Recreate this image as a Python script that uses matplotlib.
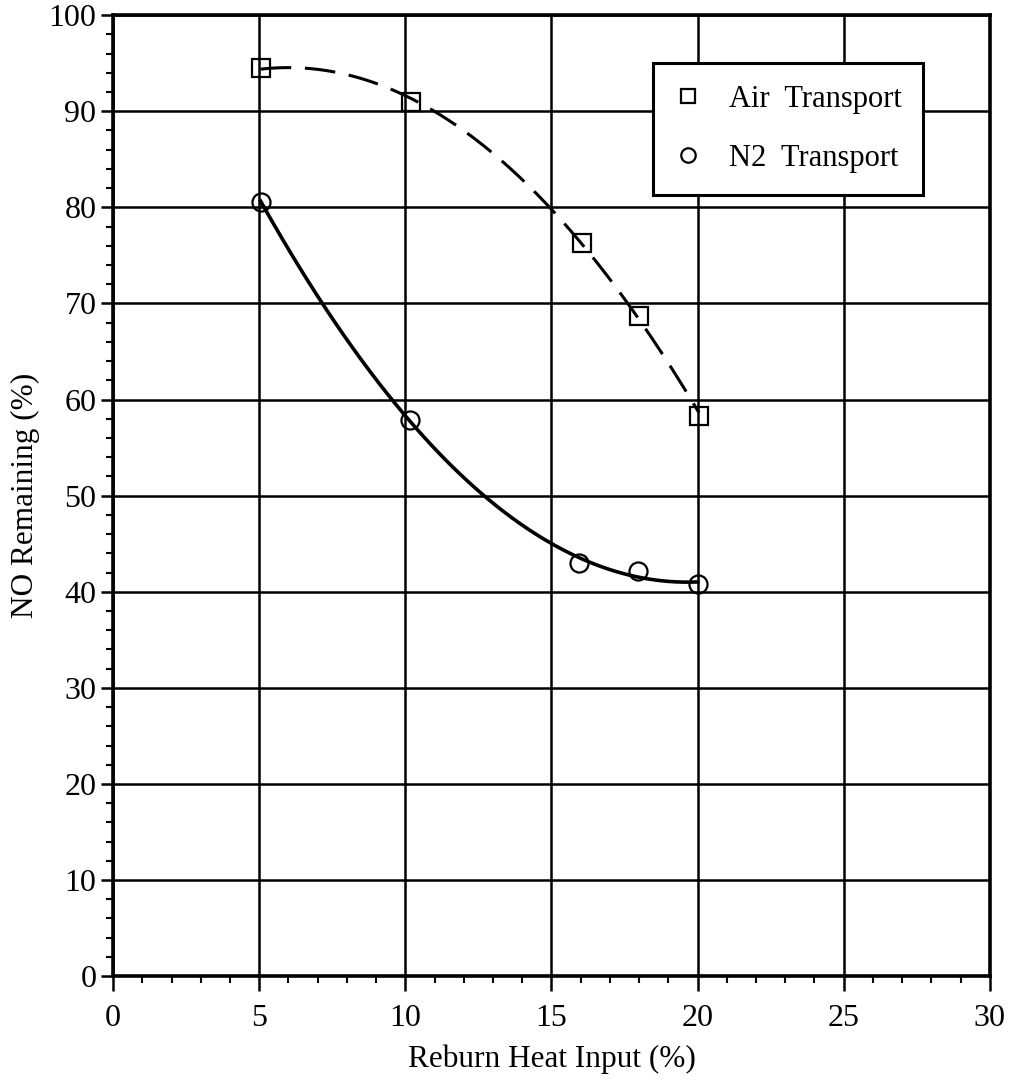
import numpy as np
import matplotlib
matplotlib.use("Agg")
import matplotlib.pyplot as plt
from matplotlib.ticker import MultipleLocator

plt.rcParams['font.family'] = ['Liberation Serif', 'DejaVu Serif']

# Data
air_x = [5.05, 10.2, 16.05, 18.0, 20.05]
air_y = [94.5, 91.0, 76.3, 68.7, 58.3]
n2_x = [5.05, 10.15, 15.95, 17.95, 20.0]
n2_y = [80.6, 57.9, 43.0, 42.2, 40.8]

x_ticks = [0, 5, 10, 15, 20, 25, 30]
y_ticks = [0, 10, 20, 30, 40, 50, 60, 70, 80, 90, 100]

fig = plt.figure(figsize=(10.10, 10.81), dpi=100)
ax = fig.add_axes([0.112, 0.097, 0.868, 0.889])

# smooth fitted curves through each series
air_fit = np.poly1d(np.polyfit(air_x, air_y, 2))
n2_fit = np.poly1d(np.polyfit(n2_x, n2_y, 2))
xa = np.linspace(air_x[0], air_x[-1], 200)
xn = np.linspace(n2_x[0], n2_x[-1], 200)
ax.plot(xa, air_fit(xa), color="black", lw=2.2, ls=(0, (10, 4.5)), zorder=3)
ax.plot(xn, n2_fit(xn), color="black", lw=2.6, zorder=3)

ax.plot(air_x, air_y, ls="none", marker="s", ms=13, mfc="none", mec="black",
        mew=1.6, label="Air  Transport", zorder=4)
ax.plot(n2_x, n2_y, ls="none", marker="o", ms=13, mfc="none", mec="black",
        mew=1.6, label="N2  Transport", zorder=4)

ax.set_xlim(0, 30)
ax.set_ylim(0, 100)
ax.set_xticks(x_ticks)
ax.set_yticks(y_ticks)
ax.xaxis.set_minor_locator(MultipleLocator(1))
ax.yaxis.set_minor_locator(MultipleLocator(2))
ax.grid(True, which="major", color="black", lw=1.8)
ax.set_axisbelow(True)

for s in ax.spines.values():
    s.set_linewidth(2.6)

ax.tick_params(which="major", direction="out", length=9, width=1.8,
               labelsize=23, pad=3)
ax.tick_params(axis="x", which="major", length=11, pad=9)
ax.tick_params(which="minor", direction="out", length=5, width=1.5)

ax.set_xlabel("Reburn Heat Input (%)", fontsize=22.5, labelpad=8)
ax.set_ylabel("NO Remaining (%)", fontsize=22.5, labelpad=6)

leg = ax.legend(loc="upper right", bbox_to_anchor=(0.924, 0.950),
                borderaxespad=0, fontsize=22, frameon=True, fancybox=False,
                handlelength=0.9, handletextpad=0.9, labelspacing=1.0,
                borderpad=0.7, markerscale=0.8)
leg.get_frame().set_edgecolor("black")
leg.get_frame().set_linewidth(2.2)
leg.get_frame().set_alpha(1)

fig.savefig("out.png", dpi=100)
